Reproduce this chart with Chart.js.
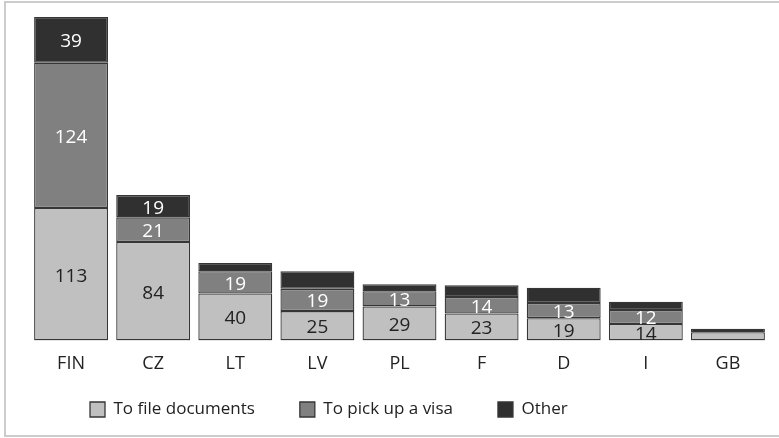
<!DOCTYPE html>
<html><head><meta charset="utf-8">
<script src="https://cdn.jsdelivr.net/npm/chart.js@4.4.1/dist/chart.umd.min.js"></script>
<style>html,body{margin:0;padding:0;background:#fff;} #wrap{position:relative;width:779px;height:438px;}</style>
</head><body><div id="wrap"><canvas id="c" width="779" height="438"></canvas></div>
<script>
const categories = ['FIN','CZ','LT','LV','PL','F','D','I','GB'];
const seriesNames = ['To file documents','To pick up a visa','Other'];
const fileDocuments = [113,84,40,25,29,23,19,14,7];
const pickUpVisa = [124,21,19,19,13,14,13,12,0];
const other = [39,19,7,15,6,10,13,7,3];
const showFileLabel = [true,true,true,true,true,true,true,true,false];
const showVisaLabel = [true,true,true,true,true,true,true,true,false];
const showOtherLabel = [true,true,false,false,false,false,false,false,false];

const FONT = '"Open Sans", "Noto Sans", sans-serif';
const BORDER = '#363636';

const barLabels = {
  id: 'barLabels',
  afterDatasetsDraw(chart) {
    const ctx = chart.ctx;
    ctx.save();
    ctx.font = '19px ' + FONT;
    ctx.textAlign = 'center';
    ctx.textBaseline = 'middle';
    chart.data.datasets.forEach((ds, i) => {
      const meta = chart.getDatasetMeta(i);
      meta.data.forEach((bar, j) => {
        if (!ds.showLabels[j]) return;
        const p = bar.getProps(['x', 'y', 'base'], true);
        ctx.fillStyle = ds.labelColor;
        ctx.fillText(String(ds.data[j]), p.x, (p.y + p.base) / 2 + 2);
      });
    });
    ctx.restore();
  }
};

const frame = {
  id: 'frame',
  beforeDraw(chart) {
    const ctx = chart.ctx;
    ctx.save();
    ctx.fillStyle = '#fff';
    ctx.fillRect(0, 0, chart.width, chart.height);
    ctx.strokeStyle = '#cccccc';
    ctx.lineWidth = 2;
    ctx.strokeRect(5, 2, 790, 434);
    ctx.restore();
  }
};

// place the legend row (its label padding also sets the gaps between items)
const legendNudge = {
  id: 'legendNudge',
  afterLayout(chart) {
    const lg = chart.legend;
    if (!lg) return;
    const pad = lg.options.labels.padding;
    lg.left += 15; lg.right += 15;
    lg.top = 401 - pad;
    lg.bottom = chart.height;
    lg.height = lg.bottom - lg.top;
  }
};

new Chart(document.getElementById('c'), {
  type: 'bar',
  data: {
    labels: categories,
    datasets: [
      { label: seriesNames[0], data: fileDocuments, backgroundColor: '#c0c0c0', borderColor: BORDER, borderWidth: 1.3, borderSkipped: false, showLabels: showFileLabel, labelColor: '#222' },
      { label: seriesNames[1], data: pickUpVisa, backgroundColor: '#808080', borderColor: BORDER, borderWidth: 1.3, borderSkipped: false, showLabels: showVisaLabel, labelColor: '#fff' },
      { label: seriesNames[2], data: other, backgroundColor: '#303030', borderColor: BORDER, borderWidth: 1.3, borderSkipped: false, showLabels: showOtherLabel, labelColor: '#fff' }
    ]
  },
  options: {
    responsive: false,
    animation: false,
    devicePixelRatio: 1,
    layout: { padding: { left: 30, right: 10, top: 17, bottom: 30 } },
    datasets: { bar: { categoryPercentage: 1, barPercentage: 0.9 } },
    plugins: {
      legend: {
        position: 'bottom', align: 'start', maxHeight: 20,
        labels: { boxWidth: 15, boxHeight: 15, padding: 45, color: '#222', font: { family: FONT, size: 17 } }
      },
      tooltip: { enabled: false }
    },
    scales: {
      x: {
        stacked: true,
        grid: { display: false, drawTicks: false },
        border: { display: false },
        ticks: { color: '#222', font: { family: FONT, size: 18 }, padding: 13 }
      },
      y: { stacked: true, display: false, min: 0, max: 276 }
    }
  },
  plugins: [frame, barLabels, legendNudge]
});
</script>
</body></html>
